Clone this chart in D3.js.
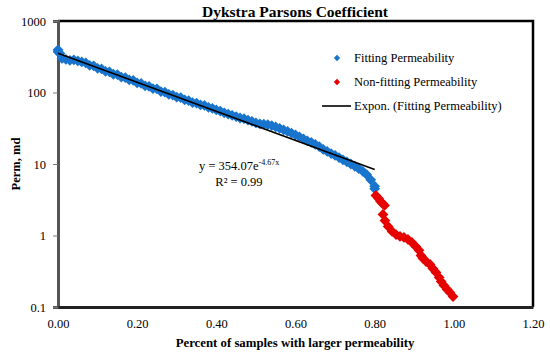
<!DOCTYPE html>
<html>
<head>
<meta charset="utf-8">
<script src="https://cdn.jsdelivr.net/npm/d3@7/dist/d3.min.js"></script>
<style>
    body { margin: 0; background: #fff; }
    text { font-family: "Liberation Serif", "Times New Roman", serif; fill: #000; }
</style>
</head>
<body>
<div id="chart"></div>
<script>

// fitting permeability (blue)
var fitX = [0.00, 0.00, 0.005, 0.01, 0.02, 0.03, 0.04, 0.05, 0.06, 0.07, 0.08, 0.09,
    0.10, 0.11, 0.12, 0.13, 0.14, 0.15, 0.16, 0.17, 0.18, 0.19,
    0.20, 0.21, 0.22, 0.23, 0.24, 0.25, 0.26, 0.27, 0.28, 0.29,
    0.30, 0.31, 0.32, 0.33, 0.34, 0.35, 0.36, 0.37, 0.38, 0.39,
    0.40, 0.41, 0.42, 0.43, 0.44, 0.45, 0.46, 0.47, 0.48, 0.49,
    0.50, 0.51, 0.52, 0.53, 0.54, 0.55, 0.56, 0.57, 0.58, 0.59,
    0.60, 0.61, 0.62, 0.63, 0.64, 0.65, 0.66, 0.67, 0.68, 0.69,
    0.70, 0.71, 0.72, 0.73, 0.74, 0.75, 0.76, 0.77, 0.78, 0.79, 0.80, 0.80];
var fitY = [395, 372, 350, 300, 290, 282, 285, 276, 268, 260, 240, 236,
    218, 214, 198, 195, 180, 178, 164, 162, 150, 148,
    136, 134, 124, 122, 113, 112, 103, 101, 94, 92,
    86, 85, 79, 77, 72, 71, 67, 66, 62, 60,
    57, 55, 52, 50, 48, 46, 44, 43, 41, 39.5,
    37.5, 36.5, 36, 35.5, 34.5, 33, 31.5, 30, 28.5, 27,
    25.5, 24, 22.5, 21, 20, 18.8, 17.5, 16, 15, 14,
    13.2, 12.3, 11.4, 10.7, 10.0, 9.3, 8.6, 7.9, 7.1, 6.0, 4.9, 4.5];

// non-fitting permeability (red)
var nonX = [0.803, 0.81, 0.815, 0.82, 0.825,
    0.821, 0.826, 0.834, 0.844, 0.854, 0.864, 0.874, 0.884, 0.894, 0.904, 0.912,
    0.917, 0.922, 0.930, 0.940, 0.947, 0.955, 0.963, 0.968, 0.975, 0.983, 0.990, 0.998];
var nonY = [3.63, 3.29, 2.99, 2.80, 2.63,
    1.97, 1.62, 1.34, 1.14, 1.03, 0.97, 0.94, 0.88, 0.80, 0.70, 0.62,
    0.525, 0.477, 0.433, 0.393, 0.345, 0.304, 0.259, 0.227, 0.20, 0.176, 0.16, 0.14];

// exponential trendline y = 354.07e^-4.67x (straight on log axis)
var trendX = [0, 0.80];
var trendY = [354.07, 8.41];

var xTicks = [0, 0.2, 0.4, 0.6, 0.8, 1.0, 1.2];
var yTicks = [0.1, 1, 10, 100, 1000];

var width = 550, height = 356;
var plot = {left: 58, right: 533, top: 21, bottom: 307};

var svg = d3.select("#chart")
    .append("svg")
    .attr("width", width)
    .attr("height", height);

var x = d3.scaleLinear().domain([0, 1.2]).range([plot.left, plot.right]);
var y = d3.scaleLog().domain([0.1, 1000]).range([plot.bottom, plot.top]);

/* рамка */
svg.append("path")
    .attr("d", "M" + plot.left + "," + plot.top + "H" + plot.right + "V" + plot.bottom)
    .attr("fill", "none")
    .attr("stroke", "#000")
    .attr("stroke-width", 2.5);

/* осі */
var yAxis = svg.append("g")
    .attr("transform", "translate(" + plot.left + ",0)")
    .call(d3.axisLeft(y).tickValues(yTicks).tickSize(5).tickPadding(7)
        .tickFormat(function(d){ return d3.format("~g")(d) }));
yAxis.select(".domain").attr("stroke", "#555").attr("stroke-width", 3);
yAxis.selectAll(".tick line").attr("stroke", "#777");
yAxis.selectAll("text").attr("font-size", 12.5);

var xAxis = svg.append("g")
    .attr("transform", "translate(0," + plot.bottom + ")")
    .call(d3.axisBottom(x).tickValues(xTicks).tickSize(0).tickPadding(12)
        .tickFormat(d3.format(".2f")));
xAxis.select(".domain").attr("stroke", "#222").attr("stroke-width", 3);
xAxis.selectAll("text").attr("font-size", 12.5);

/* точки */
var diamond = d3.symbol().type(d3.symbolSquare).size(58);

svg.append("g").selectAll("path")
    .data(fitX.map(function(d, i){ return {x: d, y: fitY[i]} }))
    .enter()
    .append("path")
    .attr("d", diamond)
    .attr("transform", function(d){ return "translate(" + x(d.x) + "," + y(d.y) + ") rotate(45)" })
    .attr("fill", "#1874cd");

svg.append("g").selectAll("path")
    .data(nonX.map(function(d, i){ return {x: d, y: nonY[i]} }))
    .enter()
    .append("path")
    .attr("d", diamond)
    .attr("transform", function(d){ return "translate(" + x(d.x) + "," + y(d.y) + ") rotate(45)" })
    .attr("fill", "#e60000");

/* лінія тренду */
svg.append("path")
    .datum(trendX.map(function(d, i){ return [d, trendY[i]] }))
    .attr("d", d3.line().x(function(d){ return x(d[0]) }).y(function(d){ return y(d[1]) }))
    .attr("fill", "none")
    .attr("stroke", "#000")
    .attr("stroke-width", 1.6);

/* заголовки */
svg.append("text")
    .attr("x", 295).attr("y", 17)
    .attr("text-anchor", "middle")
    .attr("font-size", 15.5).attr("font-weight", "bold")
    .text("Dykstra Parsons Coefficient");

svg.append("text")
    .attr("x", 295).attr("y", 347)
    .attr("text-anchor", "middle")
    .attr("font-size", 12.8).attr("font-weight", "bold")
    .text("Percent of samples with larger permeability");

svg.append("text")
    .attr("transform", "translate(20,164) rotate(-90)")
    .attr("text-anchor", "middle")
    .attr("font-size", 12.5).attr("font-weight", "bold")
    .text("Perm, md");

/* легенда */
var legend = svg.append("g");
var small = d3.symbol().type(d3.symbolSquare).size(20);

legend.append("path").attr("d", small)
    .attr("transform", "translate(337,58) rotate(45)").attr("fill", "#1874cd");
legend.append("text").attr("x", 354).attr("y", 62).attr("font-size", 12.5)
    .text("Fitting Permeability");

legend.append("path").attr("d", small)
    .attr("transform", "translate(337,82) rotate(45)").attr("fill", "#e60000");
legend.append("text").attr("x", 354).attr("y", 86).attr("font-size", 12.5)
    .text("Non-fitting Permeability");

legend.append("line").attr("x1", 322).attr("x2", 351).attr("y1", 106).attr("y2", 106)
    .attr("stroke", "#000").attr("stroke-width", 1.6);
legend.append("text").attr("x", 354).attr("y", 110).attr("font-size", 12.5)
    .text("Expon. (Fitting Permeability)");

/* рівняння */
var eq = svg.append("text").attr("x", 199).attr("y", 170).attr("font-size", 12.5);
eq.append("tspan").text("y = 354.07e");
eq.append("tspan").attr("dy", -5).attr("font-size", 8).text("-4.67x");

svg.append("text").attr("x", 239).attr("y", 186).attr("text-anchor", "middle")
    .attr("font-size", 12.5).text("R² = 0.99");

</script>
</body>
</html>
